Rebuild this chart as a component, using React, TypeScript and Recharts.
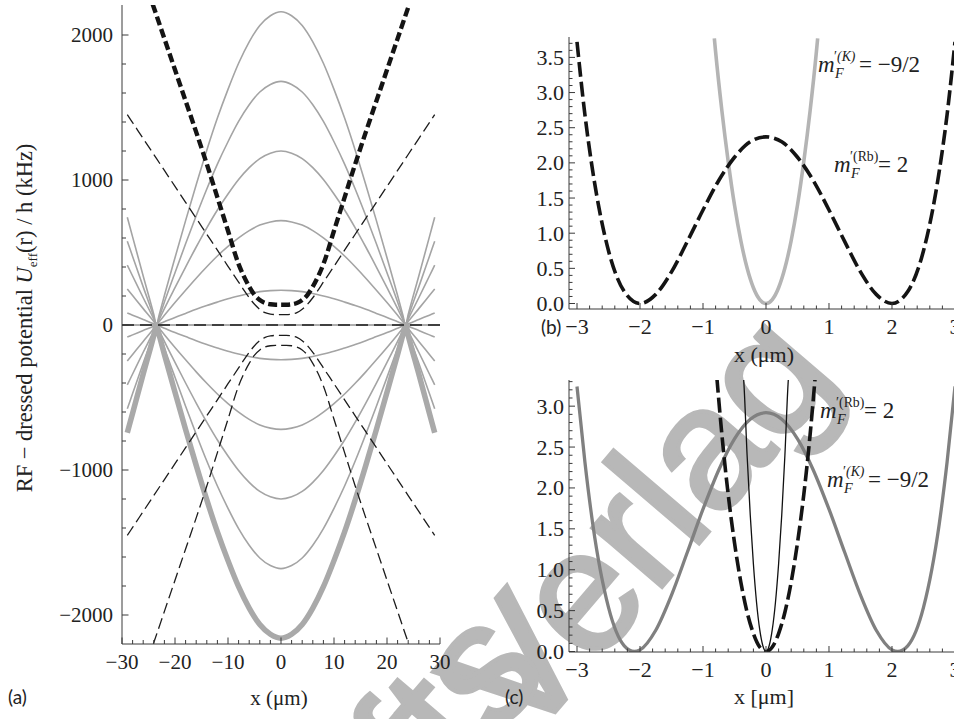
import React from 'react';
import { LineChart, Line, XAxis, YAxis, ReferenceLine } from 'recharts';

const SERIF = '"Liberation Serif", "Times New Roman", Times, serif';
const SANS = 'Lato, "Open Sans", sans-serif';
const WM = '"Liberation Sans", Arial, sans-serif';

// ---------------- Panel (a) ----------------
// the figure is mirror-symmetric in x: values are read for x >= 0
const A_X_MAJOR = [-30, -20, -10, 0, 10, 20, 30];
const A_Y_MAJOR = [-2000, -1000, 0, 1000, 2000];
const A_K_X = [0, 2, 4, 6, 8, 10, 12, 14, 16, 18, 20, 22, 23, 23.5, 24, 26, 28, 29];
const K_P12 = [240, 237, 230, 217, 200, 181, 158, 134, 108, 80, 52, 22, 7, 0, 8, 38, 68, 83];
const K_P32 = [720, 711, 689, 651, 601, 542, 476, 402, 323, 240, 155, 67, 22, 0, 24, 113, 203, 248];
const K_P52 = [1200, 1185, 1148, 1085, 1003, 903, 793, 670, 538, 400, 258, 113, 37, 0, 40, 188, 338, 413];
const K_P72 = [1680, 1659, 1607, 1519, 1404, 1264, 1110, 938, 753, 560, 361, 158, 52, 0, 56, 263, 473, 578];
const K_P92 = [2160, 2133, 2066, 1953, 1805, 1625, 1427, 1206, 968, 720, 464, 203, 68, 0, 72, 338, 608, 743];
const K_M12 = [-240, -237, -230, -217, -200, -181, -158, -134, -108, -80, -52, -22, -7, 0, -8, -38, -68, -83];
const K_M32 = [-720, -711, -689, -651, -601, -542, -476, -402, -323, -240, -155, -67, -22, 0, -24, -113, -203, -248];
const K_M52 = [-1200, -1185, -1148, -1085, -1003, -903, -793, -670, -538, -400, -258, -113, -37, 0, -40, -188, -338, -413];
const K_M72 = [-1680, -1659, -1607, -1519, -1404, -1264, -1110, -938, -753, -560, -361, -158, -52, 0, -56, -263, -473, -578];
const K_M92 = [-2160, -2133, -2066, -1953, -1805, -1625, -1427, -1206, -968, -720, -464, -203, -68, 0, -72, -338, -608, -743];

const A_RB_X = [0, 1, 2, 3, 4, 5, 6, 7, 8, 10, 12, 14, 16, 18, 20, 22, 24, 26, 28, 29];
const RB_P2 = [140, 140, 143, 152, 172, 208, 265, 335, 420, 650, 880, 1110, 1330, 1545, 1760, 1975, 2190, 2400, 2610, 2720];
const RB_P1 = [72, 72, 75, 85, 108, 143, 188, 240, 296, 405, 516, 626, 736, 846, 956, 1066, 1176, 1286, 1396, 1451];
const RB_M1 = [-72, -72, -75, -85, -108, -143, -188, -240, -296, -405, -516, -626, -736, -846, -956, -1066, -1176, -1286, -1396, -1451];
const RB_M2 = [-140, -140, -143, -152, -172, -208, -265, -335, -420, -650, -880, -1110, -1330, -1545, -1760, -1975, -2190, -2400, -2610, -2720];
const RB_0_X = [-30, 30];
const RB_0 = [0, 0];

// ---------------- Panel (b) ----------------
const B_X_MAJOR = [-3, -2, -1, 0, 1, 2, 3];
const B_Y_MAJOR = [0, 0.5, 1, 1.5, 2, 2.5, 3, 3.5];
const B_RB_X = [0, 0.25, 0.5, 0.75, 1, 1.25, 1.5, 1.75, 2, 2.25, 2.5, 2.75, 2.875, 3];
const B_RB = [2.37, 2.3, 2.08, 1.75, 1.33, 0.88, 0.45, 0.13, 0, 0.17, 0.75, 1.88, 2.69, 3.72];
const B_K_X = [0, 0.1, 0.2, 0.3, 0.4, 0.5, 0.6, 0.7, 0.8, 0.82];
const B_K = [0, 0.056, 0.224, 0.504, 0.896, 1.4, 2.02, 2.74, 3.58, 3.77];

// ---------------- Panel (c) ----------------
const C_Y_MAJOR = [0, 0.5, 1, 1.5, 2, 2.5, 3];
const C_K_X = [0, 0.25, 0.5, 0.75, 1, 1.25, 1.5, 1.75, 2, 2.09, 2.25, 2.5, 2.75, 2.875, 3];
const C_K = [2.92, 2.84, 2.6, 2.22, 1.74, 1.21, 0.69, 0.26, 0.02, 0, 0.07, 0.54, 1.56, 2.32, 3.24];
const C_RB_X = [0, 0.1, 0.2, 0.3, 0.4, 0.5, 0.6, 0.7, 0.78];
const C_RB = [0, 0.055, 0.22, 0.48, 0.85, 1.33, 1.92, 2.65, 3.35];
const C_THIN_X = [0, 0.05, 0.1, 0.15, 0.2, 0.25, 0.3, 0.35, 0.37];
const C_THIN = [0, 0.07, 0.27, 0.6, 1.07, 1.67, 2.4, 3.27, 3.5];

function mirror(xs: number[], ys: number[]) {
  const pts: { x: number; y: number }[] = [];
  for (let i = xs.length - 1; i > 0; i--) pts.push({ x: -xs[i], y: ys[i] });
  for (let i = 0; i < xs.length; i++) pts.push({ x: xs[i], y: ys[i] });
  return pts;
}
function pairs(xs: number[], ys: number[]) {
  return xs.map((x, i) => ({ x, y: ys[i] }));
}
function range(a: number, b: number, step: number) {
  const out: number[] = [];
  const n = Math.round((b - a) / step);
  for (let i = 0; i <= n; i++) out.push(Math.round((a + i * step) * 1000) / 1000);
  return out;
}
function fmt(v: number, dec: number) {
  const s = Math.abs(v).toFixed(dec);
  return v < 0 ? '\u2212' + s : s;
}

type FrameOpts = {
  xDomain: [number, number];
  yDomain: [number, number];
  xTicks: number[];
  yTicks: number[];
  xMajor: number[];
  yMajor: number[];
  xDec: number;
  yDec: number;
  xAxisH: number;
  yAxisW: number;
  fontSize: number;
  xLabelDy: number;
  yLabelDx: number;
  yLabelDy: number;
  majorLen: number;
  minorLen: number;
};

const isIn = (v: number, arr: number[]) => arr.some((m) => Math.abs(m - v) < 1e-6);
const AX = '#3a3a3a';

function frame(o: FrameOpts) {
  const txtStyle = { fontFamily: SERIF, fontSize: o.fontSize, fill: '#222', fontWeight: 'normal' as const };
  const bottomTick = (p: any) => {
    const v = p.payload.value;
    const major = isIn(v, o.xMajor);
    const len = major ? o.majorLen : o.minorLen;
    return (
      <g>
        <line x1={p.x} x2={p.x} y1={p.y} y2={p.y - len} stroke={AX} strokeWidth={1} />
        {major ? (
          <text x={p.x} y={p.y + o.xLabelDy} textAnchor="middle" fontFamily={SERIF} fontSize={o.fontSize} fill="#222" style={txtStyle}>
            {fmt(v, o.xDec)}
          </text>
        ) : null}
      </g>
    );
  };
  const topTick = (p: any) => {
    const v = p.payload.value;
    const len = isIn(v, o.xMajor) ? o.majorLen : o.minorLen;
    return <line x1={p.x} x2={p.x} y1={p.y} y2={p.y + len} stroke={AX} strokeWidth={1} />;
  };
  const leftTick = (p: any) => {
    const v = p.payload.value;
    const major = isIn(v, o.yMajor);
    const len = major ? o.majorLen : o.minorLen;
    return (
      <g>
        <line x1={p.x} x2={p.x + len} y1={p.y} y2={p.y} stroke={AX} strokeWidth={1} />
        {major ? (
          <text x={p.x - o.yLabelDx} y={p.y + o.yLabelDy} textAnchor="end" fontFamily={SERIF} fontSize={o.fontSize} fill="#222" style={txtStyle}>
            {fmt(v, o.yDec)}
          </text>
        ) : null}
      </g>
    );
  };
  const rightTick = (p: any) => {
    const v = p.payload.value;
    const len = isIn(v, o.yMajor) ? o.majorLen : o.minorLen;
    return <line x1={p.x} x2={p.x - len} y1={p.y} y2={p.y} stroke={AX} strokeWidth={1} />;
  };
  const common = { type: 'number' as const, allowDataOverflow: true, interval: 0 as const, tickSize: 0, tickMargin: 0, tickLine: false, axisLine: { stroke: AX, strokeWidth: 1 } };
  return [
    <XAxis key="xb" xAxisId={0} dataKey="x" {...common} domain={o.xDomain} ticks={o.xTicks} height={o.xAxisH} tick={bottomTick} />,
    <XAxis key="xt" xAxisId="top" dataKey="x" orientation="top" {...common} domain={o.xDomain} ticks={o.xTicks} height={0} tick={topTick} />,
    <YAxis key="yl" yAxisId={0} {...common} domain={o.yDomain} ticks={o.yTicks} width={o.yAxisW} tick={leftTick} />,
    <YAxis key="yr" yAxisId="right" orientation="right" {...common} domain={o.yDomain} ticks={o.yTicks} width={0} tick={rightTick} />,
  ];
}

const lineBase = { dataKey: 'y', dot: false, activeDot: false, isAnimationActive: false, xAxisId: 0, yAxisId: 0 } as const;
const chartStyle = { fontFamily: SERIF };

function PanelA() {
  const g = '#a4a4a4';
  const thin = { stroke: '#1c1c1c', strokeWidth: 1.3, strokeDasharray: '11 5' };
  return (
    <LineChart width={450} height={719} margin={{ top: 5, right: 10, bottom: 0, left: 0 }} style={chartStyle}>
      {frame({
        xDomain: [-30, 30],
        yDomain: [-2200, 2207],
        xTicks: range(-30, 30, 2),
        yTicks: range(-2000, 2000, 200),
        xMajor: A_X_MAJOR,
        yMajor: A_Y_MAJOR,
        xDec: 0,
        yDec: 0,
        xAxisH: 75,
        yAxisW: 122,
        fontSize: 21,
        xLabelDy: 25,
        yLabelDx: 9,
        yLabelDy: 7,
        majorLen: 6.5,
        minorLen: 4,
      })}
      <ReferenceLine y={0} stroke="#333" strokeWidth={0.8} ifOverflow="hidden" />
      <Line {...lineBase} type="monotone" data={mirror(A_K_X, K_P12)} stroke={g} strokeWidth={1.6} />
      <Line {...lineBase} type="monotone" data={mirror(A_K_X, K_P32)} stroke={g} strokeWidth={1.6} />
      <Line {...lineBase} type="monotone" data={mirror(A_K_X, K_P52)} stroke={g} strokeWidth={1.6} />
      <Line {...lineBase} type="monotone" data={mirror(A_K_X, K_P72)} stroke={g} strokeWidth={1.6} />
      <Line {...lineBase} type="monotone" data={mirror(A_K_X, K_P92)} stroke={g} strokeWidth={1.6} />
      <Line {...lineBase} type="monotone" data={mirror(A_K_X, K_M12)} stroke={g} strokeWidth={1.6} />
      <Line {...lineBase} type="monotone" data={mirror(A_K_X, K_M32)} stroke={g} strokeWidth={1.6} />
      <Line {...lineBase} type="monotone" data={mirror(A_K_X, K_M52)} stroke={g} strokeWidth={1.6} />
      <Line {...lineBase} type="monotone" data={mirror(A_K_X, K_M72)} stroke={g} strokeWidth={1.6} />
      <Line {...lineBase} type="monotone" data={mirror(A_K_X, K_M92)} stroke="#a9a9a9" strokeWidth={5.5} />
      <Line {...lineBase} type="linear" data={pairs(RB_0_X, RB_0)} stroke="#1c1c1c" strokeWidth={1.4} strokeDasharray="12 6" />
      <Line {...lineBase} type="monotone" data={mirror(A_RB_X, RB_P1)} {...thin} />
      <Line {...lineBase} type="monotone" data={mirror(A_RB_X, RB_M1)} {...thin} />
      <Line {...lineBase} type="monotone" data={mirror(A_RB_X, RB_M2)} {...thin} />
      <Line {...lineBase} type="monotone" data={mirror(A_RB_X, RB_P2)} stroke="#141414" strokeWidth={4.4} strokeDasharray="9 4" />
    </LineChart>
  );
}

function PanelB() {
  return (
    <LineChart width={490} height={360} margin={{ top: 37, right: 7, bottom: 0, left: 0 }} style={chartStyle}>
      {frame({
        xDomain: [-3.127, 3.127],
        yDomain: [-0.078, 3.79],
        xTicks: range(-3.0, 3.0, 0.2),
        yTicks: range(0, 3.7, 0.1),
        xMajor: B_X_MAJOR,
        yMajor: B_Y_MAJOR,
        xDec: 0,
        yDec: 1,
        xAxisH: 51,
        yAxisW: 89,
        fontSize: 22,
        xLabelDy: 25,
        yLabelDx: 5,
        yLabelDy: 7.5,
        majorLen: 6,
        minorLen: 3.5,
      })}
      <Line {...lineBase} type="monotone" data={mirror(B_K_X, B_K)} stroke="#b4b4b4" strokeWidth={3.6} />
      <Line {...lineBase} type="monotone" data={mirror(B_RB_X, B_RB)} stroke="#141414" strokeWidth={3.6} strokeDasharray="15 5" />
    </LineChart>
  );
}

function PanelC() {
  return (
    <LineChart width={490} height={379} margin={{ top: 40, right: 7, bottom: 0, left: 0 }} style={chartStyle}>
      {frame({
        xDomain: [-3.127, 3.127],
        yDomain: [-0.006, 3.32],
        xTicks: range(-3.0, 3.0, 0.2),
        yTicks: range(0, 3.3, 0.1),
        xMajor: B_X_MAJOR,
        yMajor: C_Y_MAJOR,
        xDec: 0,
        yDec: 1,
        xAxisH: 67,
        yAxisW: 89,
        fontSize: 22,
        xLabelDy: 25,
        yLabelDx: 5,
        yLabelDy: 7.5,
        majorLen: 6,
        minorLen: 3.5,
      })}
      <Line {...lineBase} type="monotone" data={mirror(C_K_X, C_K)} stroke="#808080" strokeWidth={3.3} />
      <Line {...lineBase} type="monotone" data={mirror(C_RB_X, C_RB)} stroke="#141414" strokeWidth={3.6} strokeDasharray="15 5" />
      <Line {...lineBase} type="monotone" data={mirror(C_THIN_X, C_THIN)} stroke="#111" strokeWidth={1.3} />
    </LineChart>
  );
}

function MLabel({ x, y, sup, val, size }: { x: number; y: number; sup: string; val: string; size: number }) {
  const st = { fontFamily: SERIF, fill: '#222' };
  return (
    <g>
      <text x={x} y={y} style={{ ...st, fontSize: size, fontStyle: 'italic' }}>m</text>
      <text x={x + 16} y={y - 11} style={{ ...st, fontSize: size * 0.6 }}>
        {'\u2032'}
        <tspan style={{ fontStyle: sup === 'K' ? 'italic' : 'normal' }}>({sup})</tspan>
      </text>
      <text x={x + 17} y={y + 6} style={{ ...st, fontSize: size * 0.62, fontStyle: 'italic' }}>F</text>
      <text x={x + 17 + (sup === 'K' ? 24 : 27)} y={y} style={{ ...st, fontSize: size }}>{val}</text>
    </g>
  );
}

export default function App() {
  const serif = (size: number) => ({ fontFamily: SERIF, fontSize: size, fill: '#222' });
  const sans = { fontFamily: SANS, fontSize: 19, fill: '#222' };
  return (
    <div style={{ position: 'absolute', left: 0, top: 0, width: 954, height: 719, overflow: 'hidden', background: '#fff', fontFamily: SERIF }}>
      <svg width={954} height={719} style={{ position: 'absolute', left: 0, top: 0 }}>
        <g style={{ fill: '#b8b8b8', stroke: '#b8b8b8', strokeWidth: 4, fontFamily: WM, fontWeight: 'normal', fontSize: 173 }}>
          <text transform="translate(648,534) rotate(-49.5)" textAnchor="middle" y={45}>Verlag</text>
          <text transform="translate(458,712) rotate(-49.5)" textAnchor="middle" y={45}>fts</text>
        </g>
      </svg>
      <div style={{ position: 'absolute', left: 0, top: 0 }}>
        <PanelA />
      </div>
      <div style={{ position: 'absolute', left: 480, top: 0 }}>
        <PanelB />
      </div>
      <div style={{ position: 'absolute', left: 480, top: 340 }}>
        <PanelC />
      </div>
      <svg width={954} height={719} style={{ position: 'absolute', left: 0, top: 0, pointerEvents: 'none' }}>
        <text transform="translate(32,318) rotate(-90)" textAnchor="middle" style={serif(22.5)}>
          RF {'\u2212'} dressed potential <tspan style={{ fontStyle: 'italic' }}>U</tspan>
          <tspan style={{ fontSize: 13 }} dy={5}>eff</tspan>
          <tspan dy={-5}>(r) / h (kHz)</tspan>
        </text>
        <text x={279} y={705} textAnchor="middle" style={serif(21)}>x (μm)</text>
        <text x={764} y={362} textAnchor="middle" style={serif(22)}>x (μm)</text>
        <text x={764} y={704} textAnchor="middle" style={serif(22)}>x [μm]</text>
        <text x={8} y={704} style={sans}>(a)</text>
        <text x={541} y={334} style={sans}>(b)</text>
        <text x={505} y={704} style={sans}>(c)</text>
        <MLabel x={818} y={72} sup="K" val={'= \u22129/2'} size={23} />
        <MLabel x={834} y={172} sup="Rb" val="= 2" size={23} />
        <MLabel x={820} y={418} sup="Rb" val="= 2" size={23} />
        <MLabel x={827} y={487} sup="K" val={'= \u22129/2'} size={23} />
      </svg>
    </div>
  );
}
